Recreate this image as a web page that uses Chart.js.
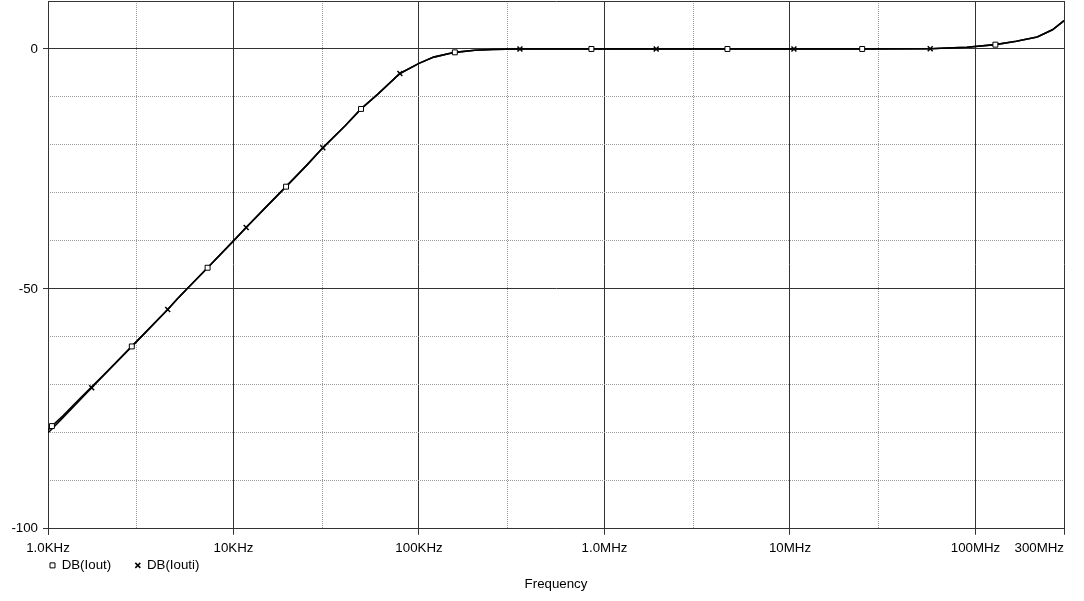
<!DOCTYPE html>
<html>
<head>
<meta charset="utf-8">
<script src="https://cdn.jsdelivr.net/npm/chart.js@4/dist/chart.umd.min.js"></script>
<style>
  html, body { margin: 0; padding: 0; background: #fff; }
  #wrap { width: 1084px; height: 601px; }
</style>
</head>
<body>
<div id="wrap"><canvas id="chart" width="1084" height="601"></canvas></div>
<script>
// frequency points (Hz)
const freqHz = [1000, 1050, 1200, 1500, 1720, 2000, 2830, 3000, 4420, 5000, 7250, 10000,
  11700, 15000, 19200, 25000, 30300, 40000, 48700, 60000, 78900, 100000, 120000, 156000,
  200000, 250000, 350000, 850000, 1.9e6, 4.6e6, 1.05e7, 2.45e7, 5.7e7, 7e7, 9e7, 1.28e8,
  1.66e8, 2.15e8, 2.6e8, 3e8];

// DB(Iout) and DB(Iouti) in dB
const dbIout = [-79.4, -78.6, -76.5, -72.7, -70.4, -67.9, -62.0, -61.0, -54.3, -52.0, -45.6, -40.0,
  -37.2, -32.9, -28.7, -24.1, -20.6, -16.0, -12.5, -9.4, -5.1, -3.0, -1.7, -0.7,
  -0.25, -0.1, 0, 0, 0, 0, 0, 0, 0.05, 0.2, 0.35, 0.9,
  1.6, 2.5, 4.0, 5.9];
const dbIouti = [-80.0, -79.2, -76.9, -73.0, -70.6, -68.0, -62.0, -61.0, -54.3, -52.0, -45.6, -40.0,
  -37.2, -32.9, -28.7, -24.1, -20.6, -16.0, -12.5, -9.4, -5.1, -3.0, -1.7, -0.7,
  -0.25, -0.1, 0, 0, 0, 0, 0, 0, 0.05, 0.2, 0.35, 0.9,
  1.6, 2.5, 4.0, 5.9];

// where the symbols sit on each trace
const markIout = [1050, 2830, 7250, 19200, 48700, 156000, 850000, 4.6e6, 2.45e7, 1.28e8];
const markIouti = [1720, 4420, 11700, 30300, 78900, 350000, 1.9e6, 1.05e7, 5.7e7];

// axis ticks (first 1000 is a blank helper so the labels align like the original)
const xTickValues = [1000, 1000, 1e4, 1e5, 1e6, 1e7, 1e8, 3e8];
const xTickLabels = ['', '1.0KHz', '10KHz', '100KHz', '1.0MHz', '10MHz', '100MHz', '300MHz'];
const xMinorTicks = [3e3, 3e4, 3e5, 3e6, 3e7];
const yTickValues = [-100, -50, 0, 10];
const yTickLabels = ['-100', '-50', '0', ''];
const yMinorTicks = [-90, -80, -70, -60, -40, -30, -20, -10];

Chart.defaults.font.family = '"Liberation Sans", Arial, sans-serif';
Chart.defaults.font.size = 13.3;
Chart.defaults.color = '#000';

const toPoints = (vals) => freqHz.map((f, i) => ({ x: f, y: vals[i] }));
const radii = (marks) => freqHz.map(f => marks.includes(f) ? 3.5 : 0);

new Chart(document.getElementById('chart'), {
  type: 'line',
  data: {
    datasets: [
      {
        label: 'DB(Iout)',
        data: toPoints(dbIout),
        borderColor: '#000',
        backgroundColor: '#fff',
        borderWidth: 1.6,
        pointStyle: 'rect',
        pointRadius: radii(markIout),
        pointBorderWidth: 1,
        pointBorderColor: '#000',
        pointBackgroundColor: '#fff',
        tension: 0
      },
      {
        label: 'DB(Iouti)',
        data: toPoints(dbIouti),
        borderColor: '#000',
        backgroundColor: '#fff',
        borderWidth: 1.6,
        pointStyle: 'crossRot',
        pointRadius: radii(markIouti),
        pointBorderWidth: 1.5,
        pointBorderColor: '#000',
        tension: 0
      }
    ]
  },
  options: {
    responsive: false,
    animation: false,
    devicePixelRatio: 1,
    events: [],
    layout: { padding: { left: 0, top: 1, right: 20, bottom: 0 } },
    scales: {
      x: {
        type: 'logarithmic',
        position: 'bottom',
        min: 1000,
        max: 3e8,
        afterBuildTicks: (scale) => { scale.ticks = xTickValues.map(v => ({ value: v })); },
        afterFit: (scale) => { scale.height = 28; scale.paddingLeft = 0; scale.paddingRight = 0; },
        ticks: {
          autoSkip: false,
          maxRotation: 0,
          align: 'inner',
          padding: 6,
          callback: (value, index) => xTickLabels[index]
        },
        grid: { color: '#333', lineWidth: 1, tickLength: 6, tickColor: '#333' },
        border: { color: '#333', width: 1 }
      },
      x2: {
        type: 'logarithmic',
        position: 'bottom',
        min: 1000,
        max: 3e8,
        afterBuildTicks: (scale) => { scale.ticks = xMinorTicks.map(v => ({ value: v })); },
        afterFit: (scale) => { scale.height = 0; },
        ticks: { display: false },
        grid: { color: '#9a9a9a', lineWidth: 1, drawTicks: false },
        border: { display: false, dash: [1, 1] }
      },
      y: {
        type: 'linear',
        position: 'left',
        min: -100,
        max: 10,
        afterBuildTicks: (scale) => { scale.ticks = yTickValues.map(v => ({ value: v })); },
        afterFit: (scale) => { scale.width = 48; scale.paddingTop = 0; },
        ticks: {
          padding: 5,
          callback: (value, index) => yTickLabels[index]
        },
        grid: {
          color: '#333',
          lineWidth: 1,
          tickLength: 5,
          tickColor: (ctx) => ctx.tick && ctx.tick.value === 10 ? 'rgba(0,0,0,0)' : '#333'
        },
        border: { color: '#333', width: 1 }
      },
      y2: {
        type: 'linear',
        position: 'left',
        min: -100,
        max: 10,
        afterBuildTicks: (scale) => { scale.ticks = yMinorTicks.map(v => ({ value: v })); },
        afterFit: (scale) => { scale.width = 0; },
        ticks: { display: false },
        grid: { color: '#9a9a9a', lineWidth: 1, drawTicks: false },
        border: { display: false, dash: [1, 1] }
      }
    },
    plugins: {
      legend: {
        position: 'bottom',
        align: 'start',
        fullSize: false,
        labels: {
          usePointStyle: true,
          boxWidth: 5,
          boxHeight: 5,
          padding: 2,
          color: '#000',
          generateLabels: (chart) => Chart.defaults.plugins.legend.labels.generateLabels(chart)
            .map(l => Object.assign(l, { text: l.text + '      ' }))
        }
      },
      title: {
        display: true,
        text: 'Frequency',
        position: 'bottom',
        fullSize: false,
        color: '#000',
        font: { size: 13.3, weight: 'normal' },
        // legend box carries 10px of slack below it, so pull the title up into it
        padding: { top: -6, bottom: 9 }
      },
      tooltip: { enabled: false }
    }
  }
});
</script>
</body>
</html>
